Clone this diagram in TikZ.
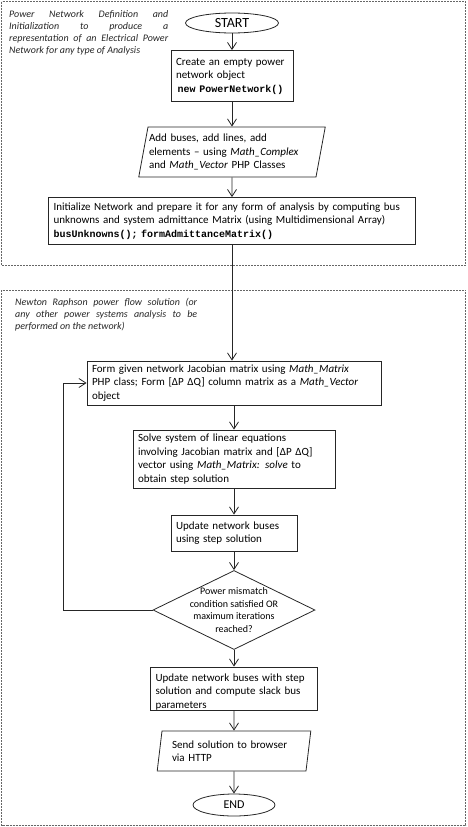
\documentclass[tikz,border=0pt]{standalone}
\usepackage{fontspec}
\setmainfont{Carlito}
\setmonofont{Liberation Mono}
\usetikzlibrary{shapes.geometric,arrows.meta}

\newcommand{\code}[1]{{\ttfamily\bfseries\fontsize{10}{13.5}\selectfont #1}}

\tikzset{
    flow/.style={draw=black!85, line width=0.8pt, -{Straight Barb[length=7pt,width=9pt]}},
    procbox/.style={draw=black!85, line width=0.8pt, align=left, inner xsep=5pt, inner ysep=3pt, font=\fontsize{11}{13.5}\selectfont},
    iobox/.style={draw=black!85, line width=0.8pt, trapezium, trapezium stretches body, align=left, inner xsep=0pt, inner ysep=3pt, font=\fontsize{11}{13.5}\selectfont},
    termnode/.style={draw=black!85, line width=0.8pt, ellipse, inner sep=0pt},
    checknode/.style={draw=black!85, line width=0.8pt, diamond, inner sep=0pt},
    secbox/.style={draw=black!60, line width=0.7pt, dash pattern=on 2pt off 1pt},
    seclabel/.style={anchor=north west, inner sep=0pt, align=justify, text=black!85, font=\fontsize{10}{12}\selectfont\itshape},
}

\begin{document}
\begin{tikzpicture}[x=1pt,y=-1pt]
            \useasboundingbox (0,0) rectangle (467,827);

            % sections
            \draw[secbox] (1.5,1.5) rectangle (465.5,265);
            \draw[secbox] (1.5,290) rectangle (465.5,825);
            \node[seclabel, text width=159] (deflabel) at (9,10) {Power Network Definition and\linebreak Initialization to produce a\linebreak representation of an Electrical Power\linebreak Network for any type of Analysis};
            \node[seclabel, text width=182] (nrlabel) at (15,298) {Newton Raphson power flow solution (or\linebreak any other power systems analysis to be\linebreak performed on the network)};

            \node[termnode, minimum width=93, minimum height=20, font=\fontsize{14}{14}\selectfont] (start) at (232,23) {START};
            \node[procbox, text width=112, minimum height=51] (create) at (232,76) {Create an empty power\\network object\\\code{\,new PowerNetwork()}};
            \node[iobox, text width=166, inner xsep=1pt, minimum height=50, trapezium left angle=77.6, trapezium right angle=102.4] (addel) at (232,152) {Add buses, add lines, add\\elements -- using \textit{Math\_Complex}\\and \textit{Math\_Vector} PHP Classes};
            \node[procbox, text width=357, minimum height=47] (init) at (232,221) {Initialize Network and prepare it for any form of analysis by computing bus\\unknowns and system admittance Matrix (using Multidimensional Array)\\\code{busUnknowns(); formAdmittanceMatrix()}};

            \node[procbox, text width=284, minimum height=44] (form) at (234,383) {Form given network Jacobian matrix using \textit{Math\_Matrix}\\PHP class; Form [ΔP ΔQ] column matrix as a \textit{Math\_Vector}\\object};
            \node[procbox, text width=192, minimum height=58] (solve) at (234,459) {Solve system of linear equations\\involving Jacobian matrix and [ΔP ΔQ]\\vector using \textit{Math\_Matrix: solve} to\\obtain step solution};
            \node[procbox, text width=116, minimum height=36] (update) at (234,533) {Update network buses\\using step solution};
            \node[checknode, minimum width=162, minimum height=79,
                  label={[align=center, font=\fontsize{10}{12.5}\selectfont]center:{Power mismatch\\condition satisfied OR\\maximum iterations\\reached?}}] (check) at (234,610) {};
            \node[procbox, text width=157, minimum height=43, text depth=22pt] (final) at (234,688.5) {Update network buses with step\\solution and compute slack bus\\parameters};
            \node[iobox, text width=124, inner xsep=10pt, minimum height=40, trapezium left angle=80, trapezium right angle=100] (send) at (234,751) {Send solution to browser\\via HTTP};
            \node[termnode, minimum width=82, minimum height=22, font=\fontsize{12}{12}\selectfont] (end) at (234,805) {END};

            \coordinate (loopx) at (63,0);

            \draw[flow] (start) -- (create);
            \draw[flow] (create) -- (addel);
            \draw[flow] (addel) -- (init);
            \draw[flow] (init.south) -- (init.south |- form.north);
            \draw[flow] (form) -- (solve);
            \draw[flow] (solve) -- (update);
            \draw[flow] (update) -- (check);
            \draw[flow] (check.west) -- (check.west -| loopx) |- (form.west);
            \draw[flow] (check) -- (final);
            \draw[flow] (final) -- (send);
            \draw[flow] (send) -- (end);
        \end{tikzpicture}
\end{document}
